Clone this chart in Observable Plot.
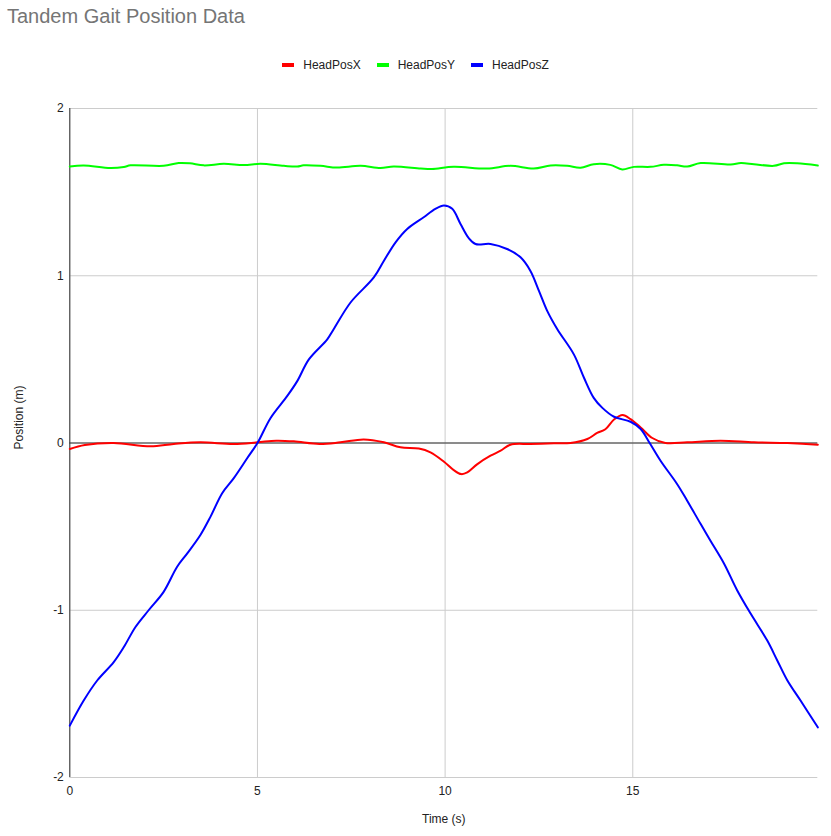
<!DOCTYPE html>
<html>
<head>
<meta charset="utf-8">
<script src="https://cdn.jsdelivr.net/npm/d3@7"></script>
<script src="https://cdn.jsdelivr.net/npm/@observablehq/plot@0.6"></script>
<style>
  html, body { margin: 0; padding: 0; background: #fff; }
  body { width: 831px; height: 836px; overflow: hidden; font-family: "Liberation Sans", Arial, sans-serif; }
  #head { position: relative; width: 831px; height: 90px; }
  #title { position: absolute; left: 7px; top: 6px; font-size: 20px; line-height: 20px; color: #757575; white-space: nowrap; }
  #legend { position: absolute; left: 0; width: 831px; top: 57px; height: 16px; display: flex; justify-content: center; align-items: center; font-size: 12px; line-height: 16px; color: #222; }
  .item { display: flex; align-items: center; margin: 0 8px; }
  .sw { width: 12px; height: 4px; margin-right: 9px; }
  #chart svg { display: block; }
</style>
</head>
<body>
<div id="head">
  <div id="title">Tandem Gait Position Data</div>
  <div id="legend"></div>
</div>
<div id="chart"></div>
<script>
// ---- data ----
const seriesNames = ["HeadPosX", "HeadPosY", "HeadPosZ"];
const seriesColors = ["#ff0000", "#00ff00", "#0000ff"];

const timeX = [0.00,0.40,1.17,2.15,2.77,3.48,4.37,5.00,5.50,5.97,6.65,7.21,7.83,8.37,8.81,9.30,9.61,9.97,10.23,10.43,10.59,10.86,11.21,11.48,11.74,12.27,12.90,13.34,13.79,14.05,14.27,14.50,14.73,14.94,15.21,15.52,15.87,16.45,17.34,18.23,19.12,19.93];
const headPosX = [-0.036,-0.012,0.000,-0.020,-0.006,0.004,-0.006,0.004,0.014,0.010,-0.006,0.004,0.021,0.004,-0.026,-0.033,-0.056,-0.112,-0.162,-0.186,-0.176,-0.126,-0.076,-0.046,-0.010,-0.006,-0.002,0.000,0.024,0.060,0.082,0.140,0.167,0.143,0.093,0.030,0.000,0.004,0.014,0.004,0.000,-0.010];

const timeY = [0.00,0.37,1.08,1.44,1.62,2.50,2.90,3.20,3.57,4.10,4.64,5.08,5.70,6.06,6.23,6.68,7.12,7.75,8.28,8.63,9.35,9.65,10.23,11.12,11.74,12.36,12.81,13.25,13.61,13.96,14.40,14.72,15.03,15.47,15.83,16.18,16.45,16.81,17.61,17.88,18.23,18.76,19.03,19.38,19.93];
const headPosY = [1.653,1.659,1.644,1.650,1.660,1.657,1.674,1.672,1.660,1.669,1.662,1.669,1.657,1.653,1.660,1.657,1.647,1.657,1.644,1.653,1.641,1.638,1.651,1.641,1.657,1.641,1.659,1.657,1.646,1.667,1.663,1.636,1.651,1.651,1.663,1.660,1.653,1.674,1.665,1.674,1.667,1.657,1.672,1.672,1.659];

const timeZ = [0.00,0.37,0.73,1.17,1.44,1.75,2.10,2.50,2.86,3.13,3.48,3.75,4.06,4.37,4.73,5.00,5.35,5.79,6.06,6.37,6.86,7.03,7.48,8.10,8.37,8.68,8.99,9.43,9.74,9.97,10.19,10.41,10.63,10.81,11.21,11.65,12.01,12.27,12.50,12.72,12.99,13.43,13.70,13.96,14.19,14.50,14.94,15.21,15.45,15.74,16.18,16.45,16.81,17.07,17.43,17.78,18.14,18.58,18.85,19.12,19.47,19.93];
const headPosZ = [-1.69,-1.54,-1.42,-1.31,-1.22,-1.10,-1.00,-0.89,-0.74,-0.66,-0.55,-0.44,-0.30,-0.21,-0.09,0.00,0.15,0.28,0.37,0.50,0.62,0.68,0.84,0.99,1.09,1.20,1.28,1.35,1.40,1.42,1.40,1.31,1.225,1.19,1.19,1.16,1.11,1.03,0.91,0.79,0.68,0.53,0.39,0.27,0.21,0.157,0.127,0.084,0.000,-0.106,-0.245,-0.345,-0.485,-0.584,-0.72,-0.88,-1.02,-1.18,-1.30,-1.42,-1.54,-1.70];

const xTicks = [0, 5, 10, 15];
const yTicks = [-2, -1, 0, 1, 2];
const xDomain = [0, 19.93];
const yDomain = [-2, 2];

// ---- build table ----
const times = [timeX, timeY, timeZ];
const vals = [headPosX, headPosY, headPosZ];
const rows = [];
seriesNames.forEach((s, i) => {
  times[i].forEach((t, j) => rows.push({series: s, t, v: vals[i][j]}));
});

// ---- legend ----
const legend = document.getElementById("legend");
seriesNames.forEach((s, i) => {
  const it = document.createElement("div");
  it.className = "item";
  const sw = document.createElement("div");
  sw.className = "sw";
  sw.style.background = seriesColors[i];
  const lab = document.createElement("span");
  lab.textContent = s;
  it.appendChild(sw); it.appendChild(lab);
  legend.appendChild(it);
});

const fmt = d => String(d);

// ---- chart ----
const chart = Plot.plot({
  width: 831,
  height: 746,
  marginTop: 18,
  marginBottom: 59,
  marginLeft: 69.3,
  marginRight: 13.7,
  style: {fontFamily: '"Liberation Sans", Arial, sans-serif', fontSize: "12px", color: "#222", background: "#fff"},
  x: {domain: xDomain, ticks: xTicks, label: null},
  y: {domain: yDomain, ticks: yTicks, label: null},
  color: {domain: seriesNames, range: seriesColors},
  marks: [
    Plot.gridX(xTicks, {stroke: "#cccccc", strokeOpacity: 1, strokeWidth: 1}),
    Plot.gridY(yTicks, {stroke: "#cccccc", strokeOpacity: 1, strokeWidth: 1}),
    Plot.axisX(xTicks, {tickSize: 0, tickPadding: 8.5, fill: "#222", fontSize: 12, label: null, tickFormat: fmt}),
    Plot.axisY(yTicks, {tickSize: 0, tickPadding: 6, fill: "#222", fontSize: 12, label: null, tickFormat: fmt}),
    Plot.ruleY([0], {stroke: "#333333", strokeWidth: 1}),
    Plot.ruleX([0], {stroke: "#333333", strokeWidth: 1}),
    Plot.line(rows, {x: "t", y: "v", z: "series", stroke: "series", strokeWidth: 2, curve: "catmull-rom"}),
    Plot.text(["Time (s)"], {frameAnchor: "bottom", dy: 45.5, fill: "#222", fontSize: 12}),
    Plot.text(["Position (m)"], {frameAnchor: "left", dx: -51, dy: 6.5, rotate: -90, fill: "#222", fontSize: 12})
  ]
});
document.getElementById("chart").appendChild(chart);
</script>
</body>
</html>
